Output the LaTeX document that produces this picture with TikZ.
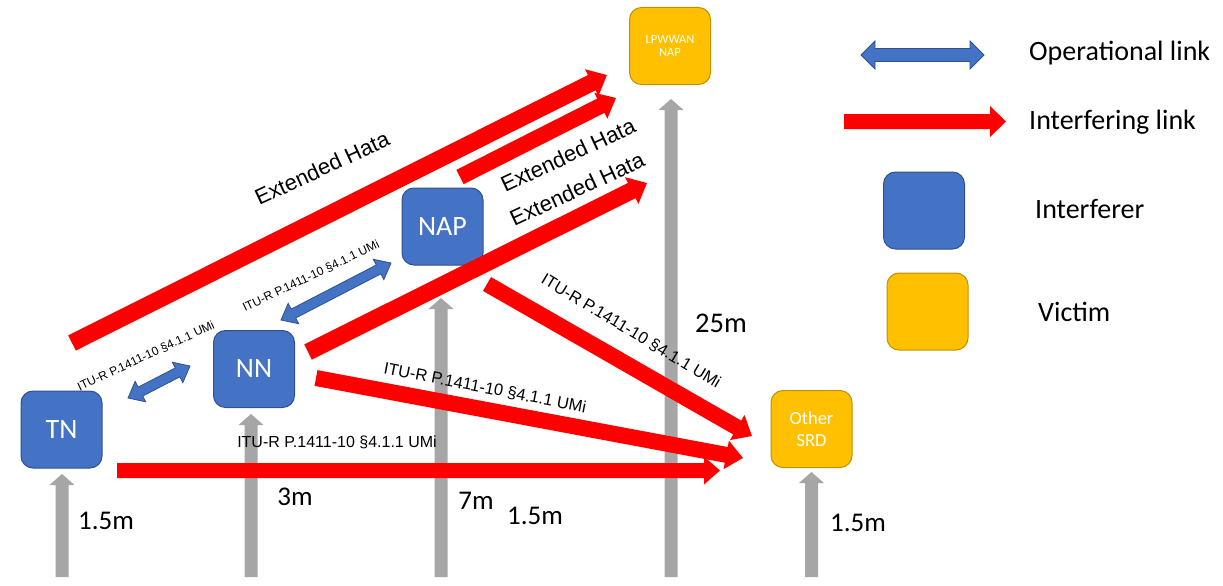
\documentclass[tikz,border=0pt]{standalone}
\usepackage{fontspec}
\setmainfont{Liberation Sans}
\newfontfamily\calfont{Carlito}
\newfontfamily\arfont{Liberation Sans}
\usetikzlibrary{calc}
\definecolor{bluefill}{HTML}{4472C4}
\definecolor{blueline}{HTML}{2F528F}
\definecolor{goldfill}{HTML}{FFC000}
\definecolor{goldline}{HTML}{BF9000}
\definecolor{greyarr}{HTML}{A6A6A6}
\definecolor{redarr}{HTML}{FF0000}
% #1 style, #2 from, #3 to, #4 half shaft, #5 half head, #6 head length
\newcommand\blockarrow[6]{%
  \path[#1] let \p1=(#2), \p2=(#3), \n1={atan2(\y2-\y1,\x2-\x1)}, \n2={veclen(\x2-\x1,\y2-\y1)} in
    [shift={(\p1)}, rotate=\n1]
    (0pt,#4pt) -- (\n2-#6pt,#4pt) -- (\n2-#6pt,#5pt) -- (\n2+0pt,0pt) -- (\n2-#6pt,-#5pt) -- (\n2-#6pt,-#4pt) -- (0pt,-#4pt) -- cycle;}
\newcommand\dblarrow[6]{%
  \path[#1] let \p1=(#2), \p2=(#3), \n1={atan2(\y2-\y1,\x2-\x1)}, \n2={veclen(\x2-\x1,\y2-\y1)} in
    [shift={(\p1)}, rotate=\n1]
    (#6pt,#4pt) -- (\n2-#6pt,#4pt) -- (\n2-#6pt,#5pt) -- (\n2+0pt,0pt) -- (\n2-#6pt,-#5pt) -- (\n2-#6pt,-#4pt) -- (#6pt,-#4pt) -- (#6pt,-#5pt) -- (0pt,0pt) -- (#6pt,#5pt) -- cycle;}
\begin{document}
\begin{tikzpicture}[x=1pt,y=-1pt,
  ifbox/.style={draw=blueline, fill=bluefill, line width=1pt, rounded corners=12pt, minimum width=81pt, minimum height=77pt, text=white, align=center, font=\calfont\fontsize{28}{30}\selectfont, inner sep=0pt},
  vbox/.style={draw=goldline, fill=goldfill, line width=1pt, rounded corners=12pt, minimum width=81pt, minimum height=77pt, text=white, align=center, inner sep=0pt},
  greystyle/.style={fill=greyarr},
  redstyle/.style={fill=redarr},
  bluestyle/.style={fill=bluefill, draw=blueline, line width=0.8pt},
  hlabel/.style={font=\calfont\fontsize{27}{29}\selectfont, inner sep=0pt},
  leglabel/.style={font=\calfont\fontsize{28}{30}\selectfont, anchor=west, inner sep=0pt},
  itu/.style={font=\arfont\fontsize{12}{14}\selectfont, inner sep=0pt},
  itubig/.style={font=\arfont\fontsize{16.5}{18}\selectfont, inner sep=0pt},
  hata/.style={font=\arfont\fontsize{22}{24}\selectfont, inner sep=0pt}]
\useasboundingbox (0,0) rectangle (1223,586);
% grey height arrows
\coordinate (gTNb) at (62,577);   \coordinate (gTNt) at (62,474);
\coordinate (gNNb) at (251,577);  \coordinate (gNNt) at (251,414);
\coordinate (gNAPb) at (441,577); \coordinate (gNAPt) at (441,298);
\coordinate (gLPb) at (671,577);  \coordinate (gLPt) at (671,99);
\coordinate (gSRDb) at (811.5,577); \coordinate (gSRDt) at (811.5,472);
\blockarrow{greystyle}{gTNb}{gTNt}{6.5}{12.5}{11}
\blockarrow{greystyle}{gNNb}{gNNt}{6.5}{12.5}{11}
\blockarrow{greystyle}{gNAPb}{gNAPt}{6.5}{12.5}{11}
\blockarrow{greystyle}{gLPb}{gLPt}{6.5}{12.5}{11}
\blockarrow{greystyle}{gSRDb}{gSRDt}{6.5}{12.5}{11}
% boxes
\node[ifbox] (TN) at (61.5,429.5) {TN};
\node[ifbox] (NN) at (254,369) {NN};
\node[ifbox] (NAP) at (442.5,226.5) {NAP};
\node[vbox, font=\calfont\fontsize{12.5}{13.5}\selectfont] (LPW) at (670,46) {LPWWAN\\NAP};
\node[vbox, font=\calfont\fontsize{18.5}{22}\selectfont] (SRD) at (811.5,429) {Other\\SRD};
% interfering links
\coordinate (r1s) at (72,343);  \coordinate (r1e) at (607,75);
\coordinate (r2s) at (460,177); \coordinate (r2e) at (616,98);
\coordinate (r3s) at (308,352); \coordinate (r3e) at (647,183);
\coordinate (r4s) at (487,284); \coordinate (r4e) at (752,436);
\coordinate (r5s) at (316,378); \coordinate (r5e) at (743,458);
\coordinate (r6s) at (117,470.5); \coordinate (r6e) at (720,470.5);
\blockarrow{redstyle}{r1s}{r1e}{8.5}{15}{17}
\blockarrow{redstyle}{r2s}{r2e}{8}{14.5}{17}
\blockarrow{redstyle}{r3s}{r3e}{8.5}{15}{17}
\blockarrow{redstyle}{r4s}{r4e}{8}{14.5}{17}
\blockarrow{redstyle}{r5s}{r5e}{8}{14.5}{17}
\blockarrow{redstyle}{r6s}{r6e}{7.5}{14}{16}
% operational links
\coordinate (b1s) at (128,398); \coordinate (b1e) at (190,366);
\coordinate (b2s) at (281,320); \coordinate (b2e) at (391,263);
\dblarrow{bluestyle}{b1s}{b1e}{5}{11.5}{14}
\dblarrow{bluestyle}{b2s}{b2e}{5}{11.5}{14}
% labels
\node[itu, rotate=25] (l1) at (146,356) {ITU-R P.1411-10 §4.1.1 UMi};
\node[itu, rotate=25.5] (l2) at (311,276) {ITU-R P.1411-10 §4.1.1 UMi};
\node[font=\arfont\fontsize{16}{18}\selectfont, inner sep=0pt] (l3) at (337,442) {ITU-R P.1411-10 §4.1.1 UMi};
\node[itubig, rotate=-11] (l4) at (485,388) {ITU-R P.1411-10 §4.1.1 UMi};
\node[itubig, rotate=-31] (l5) at (631,331) {ITU-R P.1411-10 §4.1.1 UMi};
\node[hata, rotate=25] (h1) at (322,168) {Extended Hata};
\node[hata, rotate=25] (h2) at (568,155) {Extended Hata};
\node[hata, rotate=25] (h3) at (577,189) {Extended Hata};
\node[hlabel] (m1) at (106,521) {1.5m};
\node[hlabel] (m2) at (295,497) {3m};
\node[hlabel] (m3) at (476,501) {7m};
\node[hlabel] (m4) at (535,516) {1.5m};
\node[hlabel] (m5) at (858,523) {1.5m};
\node[font=\calfont\fontsize{28.5}{30}\selectfont, inner sep=0pt] (m6) at (721,323) {25m};
% legend
\coordinate (lbs) at (861,55); \coordinate (lbe) at (984,55);
\dblarrow{bluestyle}{lbs}{lbe}{6.5}{14}{14}
\coordinate (lrs) at (844,121.5); \coordinate (lre) at (1006,121.5);
\blockarrow{redstyle}{lrs}{lre}{7.5}{15.5}{16}
\node[ifbox] (legI) at (924,210.5) {};
\node[vbox] (legV) at (927.5,311.5) {};
\node[leglabel] (t1) at (1029,53) {Operational link};
\node[leglabel] (t2) at (1029,122) {Interfering link};
\node[leglabel] (t3) at (1035,209) {Interferer};
\node[leglabel] (t4) at (1038,312) {Victim};
\end{tikzpicture}
\end{document}
